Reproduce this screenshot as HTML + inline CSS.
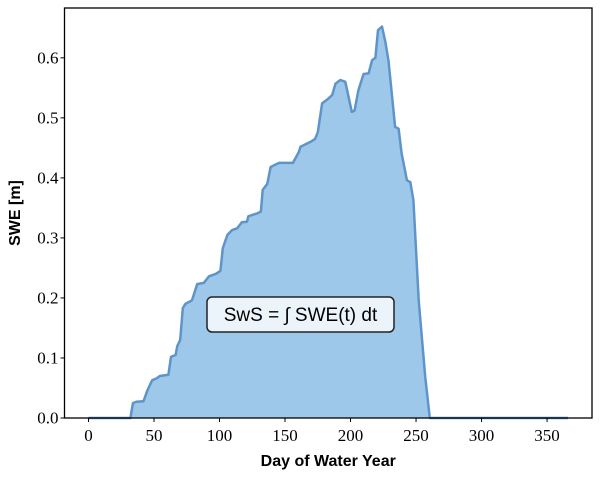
<!DOCTYPE html>
<html><head><meta charset="utf-8"><style>
body{margin:0;background:#fff;}
svg text{font-family:"Liberation Serif",serif;}
</style></head><body>
<svg id="chart" width="600" height="475" xmlns="http://www.w3.org/2000/svg">
<g id="plot"></g>
</svg>
<script>
const days=[0,32,34,36.5,42,45,48.6,52,54.4,61,63,66.5,67.8,70,72,74,79,83,88,92,97,100.7,102.5,106,109.6,113.5,117,121,122,129,131.6,133,136.5,139,141.6,145.5,156,160.5,161.8,169.4,173,175,178.3,182,186,188.5,192.3,196,201,203,206,210,213.8,216.5,219,221,224,226.6,229,234,236.7,239,243,245.6,248,252,257,260.5,366];
const swe=[0,0,0.025,0.027,0.028,0.046,0.063,0.066,0.07,0.072,0.102,0.105,0.12,0.13,0.183,0.19,0.196,0.223,0.225,0.236,0.24,0.245,0.283,0.305,0.313,0.316,0.326,0.327,0.336,0.341,0.344,0.38,0.39,0.418,0.421,0.425,0.425,0.443,0.452,0.46,0.465,0.476,0.524,0.53,0.538,0.557,0.563,0.56,0.51,0.512,0.546,0.573,0.574,0.596,0.6,0.646,0.652,0.626,0.595,0.485,0.482,0.441,0.396,0.393,0.363,0.196,0.069,0,0];
const xTicks=[0,50,100,150,200,250,300,350];
const yTicks=[0,0.1,0.2,0.3,0.4,0.5,0.6];
const yTickLabels=["0.0","0.1","0.2","0.3","0.4","0.5","0.6"];

const L=64.5,R=592,T=8,B=418;
const xMin=-18.3,xMax=384.3,yMin=0,yMax=0.683;
const X=d=>L+(d-xMin)/(xMax-xMin)*(R-L);
const Y=v=>B-(v-yMin)/(yMax-yMin)*(B-T);
const g=document.getElementById('plot');
const NS="http://www.w3.org/2000/svg";
function mk(t,a){const e=document.createElementNS(NS,t);for(const k in a)e.setAttribute(k,a[k]);g.appendChild(e);return e;}

let pts=days.map((d,i)=>X(d).toFixed(1)+","+Y(swe[i]).toFixed(1));
const area=mk('path',{d:"M"+X(days[0])+","+Y(0)+" L"+pts.join(" L")+" L"+X(days[days.length-1])+","+Y(0)+" Z",fill:"#9ec8ea",stroke:"none"});


const line=mk('polyline',{points:pts.join(" "),fill:"none",stroke:"#5f94c9","stroke-width":2.5,"stroke-linejoin":"round"});



const frame=mk('rect',{x:L,y:T,width:R-L,height:B-T,fill:"none",stroke:"#000","stroke-width":1.3});



xTicks.forEach(t=>{
  const tk=mk('line',{x1:X(t),x2:X(t),y1:B,y2:B+4,stroke:"#000","stroke-width":1});
  
  
  const tx=mk('text',{x:X(t),y:B+23,"text-anchor":"middle","font-size":"17"});
  tx.textContent=t;
  
  
});
yTicks.forEach((t,i)=>{
  const tk=mk('line',{x1:L-4,x2:L,y1:Y(t),y2:Y(t),stroke:"#000","stroke-width":1});
  
  
  const tx=mk('text',{x:L-6,y:Y(t)+5.5,"text-anchor":"end","font-size":"17"});
  tx.textContent=yTickLabels[i];
  
  
});

const xl=mk('text',{x:(L+R)/2,y:466,"text-anchor":"middle","font-size":"16","font-weight":"bold",style:"font-family:'Liberation Sans',sans-serif"});
xl.textContent="Day of Water Year";


const yl=mk('text',{x:0,y:0,"text-anchor":"middle","font-size":"16","font-weight":"bold",transform:"translate(20,"+((T+B)/2)+") rotate(-90)",style:"font-family:'Liberation Sans',sans-serif"});
yl.textContent="SWE [m]";



const box=mk('rect',{x:207,y:297,width:187,height:35,rx:5,fill:"#ecf4fb",stroke:"#222","stroke-width":1.5});


const at=mk('text',{x:300.5,y:321,"text-anchor":"middle","font-size":"19",style:"font-family:'Liberation Sans',sans-serif"});
at.textContent="SwS = ∫ SWE(t) dt";


</script>
</body></html>
